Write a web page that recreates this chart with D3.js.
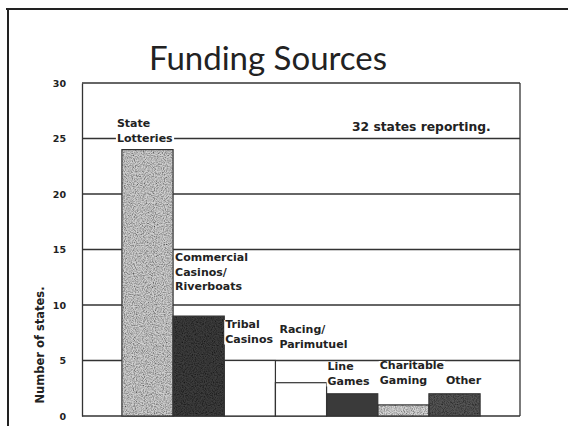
<!DOCTYPE html>
<html>
<head>
<meta charset="utf-8">
<script src="https://cdn.jsdelivr.net/npm/d3@7"></script>
<style>
  html, body { margin: 0; padding: 0; background: #fff; }
  svg { display: block; }
</style>
</head>
<body>
<svg id="chart" width="568" height="426"></svg>
<script>
// ---- data ----
const categories = ["State Lotteries", "Commercial Casinos/Riverboats", "Tribal Casinos",
  "Racing/Parimutuel", "Line Games", "Charitable Gaming", "Other"];
const values = [24, 9, 5, 3, 2, 1, 2];
const labelLines = [["State", "Lotteries"], ["Commercial", "Casinos/", "Riverboats"],
  ["Tribal", "Casinos"], ["Racing/", "Parimutuel"], ["Line", "Games"],
  ["Charitable", "Gaming"], ["Other"]];
const yTicks = [0, 5, 10, 15, 20, 25, 30];
const title = "Funding Sources";
const note = "32 states reporting.";
const yTitle = "Number of states.";

// ---- styles / layout ----
const fills = ["#cfcfcf", "#3c3c3c", "#ffffff", "#ffffff", "#3a3a3a", "#d6d6d6", "#555555"];
const textured = [true, true, false, false, false, true, true];
// label anchor: [dx from bar left, first baseline in px]
const labelPos = [[-5, 127], [2, 261], [1, 328], [4, 333], [1, 370], [2, 369], [17, 384]];

const svg = d3.select("#chart");
const W = 568, H = 426;
const plot = { left: 82, right: 520, top: 83, bottom: 416 };
const font = "'DejaVu Sans', Verdana, sans-serif";

const defs = svg.append("defs");
const f = defs.append("filter").attr("id", "speckle").attr("x", 0).attr("y", 0).attr("width", 1).attr("height", 1);
f.append("feTurbulence").attr("type", "fractalNoise").attr("baseFrequency", 0.9).attr("numOctaves", 2).attr("seed", 3).attr("result", "noise");
f.append("feColorMatrix").attr("in", "noise").attr("type", "matrix")
  .attr("values", "0 0 0 0 0  0 0 0 0 0  0 0 0 0 0  0 0 0 1.6 -0.55").attr("result", "dots");
f.append("feComposite").attr("in", "dots").attr("in2", "SourceGraphic").attr("operator", "in").attr("result", "clip");
f.append("feComposite").attr("in", "clip").attr("in2", "SourceGraphic").attr("operator", "over");

// slide frame
svg.append("line").attr("x1", 6).attr("x2", W).attr("y1", 9).attr("y2", 9).attr("stroke", "#222").attr("stroke-width", 2);
svg.append("line").attr("x1", 8).attr("x2", 8).attr("y1", 9).attr("y2", H).attr("stroke", "#222").attr("stroke-width", 2);

const x = d3.scaleBand().domain(categories).range([plot.left, plot.right]).paddingInner(0).paddingOuter(0.78);
const y = d3.scaleLinear().domain([0, 30]).range([plot.bottom, plot.top]);

// title
svg.append("text").attr("x", 268).attr("y", 70).attr("text-anchor", "middle")
  .attr("font-family", "Lato, 'Open Sans', sans-serif").attr("font-size", 33).attr("fill", "#222")
  .text(title);

// gridlines
svg.append("g").selectAll("line").data(yTicks.filter(t => t > 0)).join("line")
  .attr("x1", plot.left).attr("x2", plot.right)
  .attr("y1", d => y(d)).attr("y2", d => y(d))
  .attr("stroke", "#333").attr("stroke-width", 1.3);

// axes frame
const yAxis = d3.axisLeft(y).tickValues(yTicks).tickSize(0).tickPadding(16);
const ga = svg.append("g").attr("transform", `translate(${plot.left},0)`).call(yAxis);
ga.select(".domain").attr("stroke", "#333").attr("stroke-width", 1.3);
ga.selectAll("text").attr("font-family", font).attr("font-weight", "bold")
  .attr("font-size", 9.5).attr("fill", "#222");
svg.append("line").attr("x1", plot.right).attr("x2", plot.right).attr("y1", plot.top).attr("y2", plot.bottom)
  .attr("stroke", "#333").attr("stroke-width", 1.3);
svg.append("line").attr("x1", plot.left).attr("x2", plot.right).attr("y1", plot.bottom).attr("y2", plot.bottom)
  .attr("stroke", "#333").attr("stroke-width", 1.3);

// bars
svg.append("g").selectAll("rect").data(values).join("rect")
  .attr("x", (d, i) => x(categories[i]))
  .attr("width", x.bandwidth())
  .attr("y", d => y(d))
  .attr("height", d => y(0) - y(d))
  .attr("fill", (d, i) => fills[i])
  .attr("filter", (d, i) => textured[i] ? "url(#speckle)" : null);
svg.append("g").selectAll("rect").data(values).join("rect")
  .attr("x", (d, i) => x(categories[i]))
  .attr("width", x.bandwidth())
  .attr("y", d => y(d))
  .attr("height", d => y(0) - y(d))
  .attr("fill", "none")
  .attr("stroke", "#333").attr("stroke-width", 1.2);

// labels with white backgrounds
const lg = svg.append("g");
labelLines.forEach((lines, i) => {
  const g = lg.append("g");
  const bg = g.append("rect").attr("fill", "#fff");
  const t = g.append("text").attr("font-family", font)
    .attr("font-weight", "bold").attr("font-size", 11).attr("fill", "#222");
  lines.forEach((ln, j) => {
    t.append("tspan").attr("x", x(categories[i]) + labelPos[i][0]).attr("y", labelPos[i][1] + j * 14.5).text(ln);
  });
  const b = t.node().getBBox();
  bg.attr("x", b.x - 1).attr("y", b.y + 2).attr("width", b.width + 2).attr("height", b.height - 3);
});

// note
svg.append("text").attr("x", 352).attr("y", 131)
  .attr("font-family", font).attr("font-weight", "bold")
  .attr("font-size", 12.3).attr("fill", "#222").text(note);

// y title
svg.append("text").attr("transform", "translate(44,345) rotate(-90)").attr("text-anchor", "middle")
  .attr("font-family", font).attr("font-weight", "bold")
  .attr("font-size", 11.5).attr("fill", "#222").text(yTitle);
</script>
</body>
</html>
